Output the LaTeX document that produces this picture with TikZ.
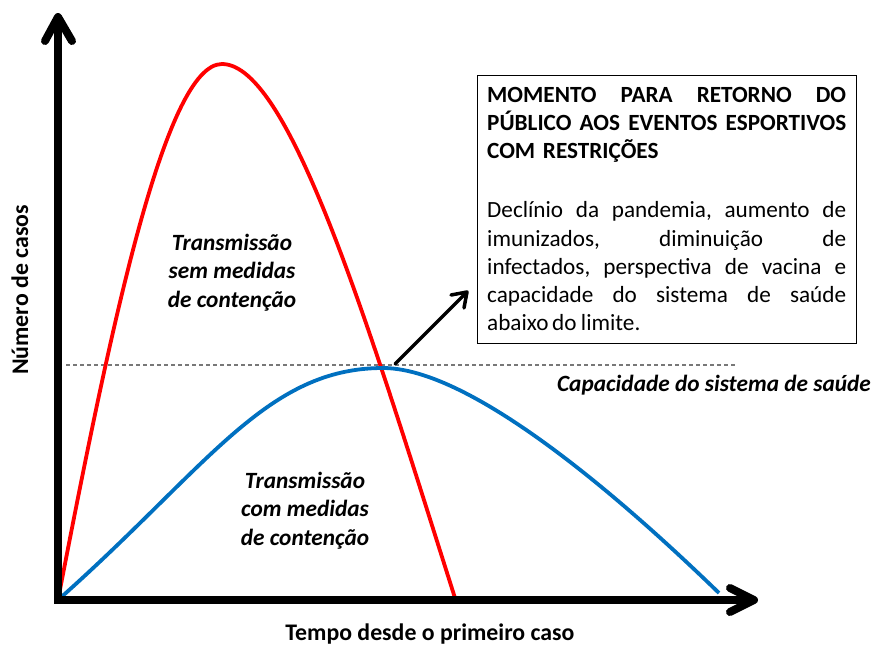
\documentclass[tikz,border=0pt]{standalone}
\usepackage{fontspec}
\setmainfont{Carlito}
\definecolor{curvered}{RGB}{255,0,0}
\definecolor{curveblue}{RGB}{0,112,192}
\definecolor{dashgray}{RGB}{120,120,120}
\newcommand{\fullline}[1]{\leavevmode\hbox to 359pt{#1}}
\begin{document}
\begin{tikzpicture}[x=1pt,y=-1pt,
  axisline/.style={line width=8pt, line join=miter},
  axishead/.style={line width=8pt, line cap=round, line join=round},
  curvestyle/.style={line width=3.8pt},
  capline/.style={dashgray, line width=1.1pt, dash pattern=on 4pt off 3pt},
  pointer/.style={line width=3.5pt, line cap=round, line join=round},
  lbl/.style={font=\fontsize{23.3}{28.5}\selectfont\bfseries\itshape, inner sep=0pt},
  axlbl/.style={font=\fontsize{23.8}{26}\selectfont\bfseries, inner sep=0pt},
  boxtxt/.style={font=\fontsize{23.2}{28.2}\selectfont, inner sep=0pt, text width=359pt, anchor=north west}
]
\useasboundingbox (0,0) rectangle (873,646);

% coordinates
\coordinate (origin) at (58,600);
\coordinate (ytip) at (58,17);
\coordinate (xtip) at (754,600);
\coordinate (redpeak) at (222,64);
\coordinate (redend) at (455,598);
\coordinate (bluepeak) at (383,368);
\coordinate (blueend) at (719,593);
\coordinate (capstart) at (66,365);
\coordinate (capend) at (737,365);
\coordinate (ptail) at (395,364);
\coordinate (ptip) at (467,292);

% capacity dashed line
\draw[capline] (capstart) -- (capend);

% curves
\draw[curvestyle, curvered] (origin) .. controls (110,330) and (165,64) .. (redpeak)
  .. controls (290,64) and (370,330) .. (redend);
\draw[curvestyle, curveblue] (origin) .. controls (208,467) and (266,368) .. (bluepeak)
  .. controls (483,368) and (660,536) .. (blueend);

% axes
\draw[axisline] (58,22) -- (origin) -- (750,600);
\draw[axishead] (45,41) -- (ytip) -- (72,41);
\draw[axishead] (730,588) -- (xtip) -- (730,612);

% pointer arrow
\draw[pointer] (ptail) -- (ptip);
\draw[pointer] (451,295) -- (ptip) -- (464,308);

% box
\node[draw, line width=1.2pt, anchor=north west, inner sep=0pt,
      minimum width=379pt, minimum height=268pt] (box) at (477,75) {};
\node[boxtxt] (boxtext) at (487,82.3) {%
  \setlength{\parindent}{0pt}%
  \strut\bfseries\fullline{MOMENTO\hfill PARA\hfill RETORNO\hfill DO}\\
  \fullline{PÚBLICO\hfill AOS\hfill EVENTOS\hfill ESPORTIVOS}\\
  COM RESTRIÇÕES\\[31pt]
  \mdseries\fullline{Declínio\hfill da\hfill pandemia,\hfill aumento\hfill de}\\
  \fullline{imunizados,\hfill diminuição\hfill de}\\
  \fullline{infectados,\hfill perspectiva\hfill de\hfill vacina\hfill e}\\
  \fullline{capacidade\hfill do\hfill sistema\hfill de\hfill saúde}\\
  abaixo\hspace{3.5pt}do\hspace{4.5pt}limite.};

% labels
\node[lbl, align=center, anchor=north] (semlbl) at (232,230) {\strut Transmissão\\sem medidas\\de contenção};
\node[lbl, align=center, anchor=north] (comlbl) at (305,468) {\strut Transmissão\\com medidas\\de contenção};
\node[lbl, anchor=base east] (caplbl) at (871,391) {Capacidade do sistema de saúde};
\node[axlbl, anchor=base] (xlbl) at (430,640) {Tempo desde o primeiro caso};
\node[axlbl, anchor=base, rotate=90] (ylbl) at (28,290) {Número de casos};
\end{tikzpicture}
\end{document}
